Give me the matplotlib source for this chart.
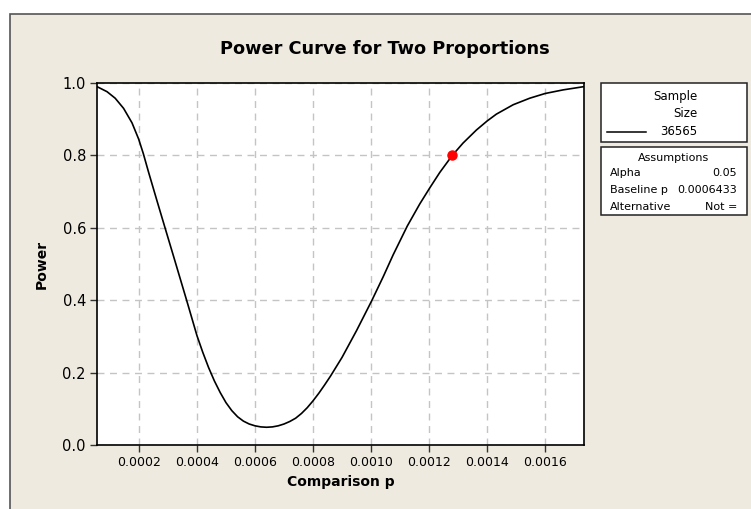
import matplotlib
matplotlib.use("Agg")
import matplotlib.pyplot as plt
from matplotlib.patches import Rectangle
from matplotlib.lines import Line2D

# points (comparison p, power)
comparison_p = [0.0000554, 0.00009, 0.000118, 0.000147, 0.000176, 0.000199, 0.000215,
                0.000233, 0.000262, 0.000291, 0.000319, 0.000342, 0.000365, 0.0004,
                0.00042, 0.00044, 0.00046, 0.00048, 0.0005, 0.00052, 0.00054,
                0.00056, 0.00058, 0.0006, 0.00062, 0.00064, 0.00066, 0.00068,
                0.0007, 0.00072, 0.00074, 0.00076, 0.00078, 0.0008, 0.00082,
                0.00084, 0.00086, 0.00088, 0.0009, 0.00095, 0.001002, 0.001042,
                0.001076, 0.001125, 0.001168, 0.001203, 0.001237, 0.00128, 0.001317,
                0.001363, 0.0014, 0.001432, 0.00149, 0.001547, 0.0016, 0.001662,
                0.001734]
power = [0.990, 0.976, 0.958, 0.930, 0.890, 0.845, 0.805,
         0.754, 0.675, 0.597, 0.522, 0.460, 0.398, 0.302,
         0.256, 0.214, 0.177, 0.145, 0.117, 0.095, 0.078,
         0.066, 0.058, 0.053, 0.050, 0.049, 0.050, 0.053,
         0.058, 0.065, 0.074, 0.087, 0.103, 0.122, 0.143,
         0.166, 0.190, 0.216, 0.242, 0.316, 0.398, 0.465,
         0.525, 0.605, 0.666, 0.711, 0.753, 0.800, 0.834,
         0.870, 0.895, 0.914, 0.940, 0.958, 0.971, 0.981,
         0.990]

target_p = [0.00128]
target_power = [0.80]

x_ticks = [0.0002, 0.0004, 0.0006, 0.0008, 0.0010, 0.0012, 0.0014, 0.0016]
y_ticks = [0.0, 0.2, 0.4, 0.6, 0.8, 1.0]

sample_size = "36565"
assumption_names = ["Alpha", "Baseline p", "Alternative"]
assumption_values = ["0.05", "0.0006433", "Not ="]

W, H = 751, 509
BG = "#eeeae0"


def fx(px):
    return px / W


def fy(py):
    return 1 - py / H


plt.rcParams['font.family'] = ['DejaVu Sans']
fig = plt.figure(figsize=(W / 100, H / 100), dpi=100)
fig.patch.set_facecolor("white")

# beige panel with border (right and bottom edges run off the image)
fig.patches.append(Rectangle((fx(10), -0.2), 1.2, fy(14) + 0.2, transform=fig.transFigure,
                             facecolor=BG, edgecolor="#555555", linewidth=1.2, zorder=-5))

ax = fig.add_axes([fx(97), fy(445), fx(584) - fx(97), fy(83) - fy(445)])
ax.set_zorder(1)
ax.set_facecolor("white")
ax.plot(comparison_p, power, color="black", linewidth=1.2, zorder=3)
ax.plot(target_p, target_power, "o", color="red", markersize=6.5, zorder=4)

ax.set_xlim(0.0000554, 0.001734)
ax.set_ylim(0, 1.0)
ax.set_xticks(x_ticks)
ax.set_xticklabels([f"{v:.4f}" for v in x_ticks], fontsize=9)
ax.set_yticks(y_ticks)
ax.set_yticklabels([f"{v:.1f}" for v in y_ticks], fontsize=10.5)
ax.tick_params(direction="out", length=5, width=1, color="#333333", pad=3)
ax.grid(True, linestyle=(0, (5, 4)), color="#c4c4c4", linewidth=1)
ax.set_axisbelow(True)
for s in ax.spines.values():
    s.set_color("black")
    s.set_linewidth(1.2)

ax.set_xlabel("Comparison p", fontsize=10, fontweight="bold", labelpad=4)
ax.set_ylabel("Power", fontsize=10, fontweight="bold", labelpad=10)

fig.text(fx(385), fy(49), "Power Curve for Two Proportions", fontsize=12.8, fontweight="bold",
         ha="center", va="center", zorder=3)

# legend box: sample size
fig.patches.append(Rectangle((fx(601), fy(141.7)), fx(746.7) - fx(601), fy(82.7) - fy(141.7),
                             transform=fig.transFigure, facecolor="white", edgecolor="#222222",
                             linewidth=1.1, zorder=1))
fig.text(fx(697), fy(96.5), "Sample", fontsize=8.5, ha="right", va="center", zorder=3)
fig.text(fx(697), fy(113.3), "Size", fontsize=8.5, ha="right", va="center", zorder=3)
fig.lines.append(Line2D([fx(607), fx(646)], [fy(131.7), fy(131.7)], transform=fig.transFigure,
                        color="black", linewidth=1.1, zorder=3))
fig.text(fx(697), fy(131.7), sample_size, fontsize=8.5, ha="right", va="center", zorder=3)

# legend box: assumptions
fig.patches.append(Rectangle((fx(601), fy(215)), fx(746.7) - fx(601), fy(147.3) - fy(215),
                             transform=fig.transFigure, facecolor="white", edgecolor="#222222",
                             linewidth=1.1, zorder=1))
fig.text(fx(674), fy(157.7), "Assumptions", fontsize=8, ha="center", va="center", zorder=3)
for i, (name, val) in enumerate(zip(assumption_names, assumption_values)):
    y = 172.7 + i * 17
    fig.text(fx(610), fy(y), name, fontsize=8, ha="left", va="center", zorder=3)
    fig.text(fx(737), fy(y), val, fontsize=8, ha="right", va="center", zorder=3)

fig.savefig("out.png", dpi=100, facecolor=fig.get_facecolor())
